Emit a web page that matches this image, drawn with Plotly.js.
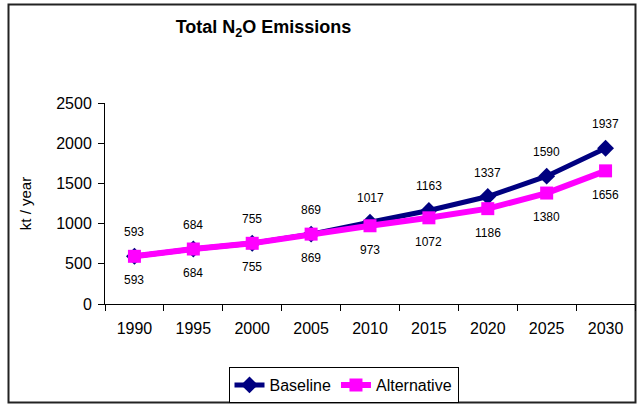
<!DOCTYPE html>
<html>
<head>
<meta charset="utf-8">
<script src="https://cdn.plot.ly/plotly-3.0.1.min.js"></script>
<style>
  html, body { margin: 0; padding: 0; background: #ffffff; }
  #chart { width: 637px; height: 405px; }
</style>
</head>
<body>
<div id="chart"></div>
<script>
const years = ["1990", "1995", "2000", "2005", "2010", "2015", "2020", "2025", "2030"];
const baseline = [593, 684, 755, 869, 1017, 1163, 1337, 1590, 1937];
const alternative = [593, 684, 755, 869, 973, 1072, 1186, 1380, 1656];
const yTicks = [0, 500, 1000, 1500, 2000, 2500];

const FONT = 'Liberation Sans, Arial, sans-serif';

const traces = [
  {
    x: years, y: baseline, name: 'Baseline', type: 'scatter', mode: 'lines+markers',
    line: { color: '#000080', width: 5 },
    marker: { symbol: 'diamond', size: 13, color: '#000080' }
  },
  {
    x: years, y: alternative, name: 'Alternative', type: 'scatter', mode: 'lines+markers',
    line: { color: '#FF00FF', width: 6 },
    marker: { symbol: 'square', size: 13, color: '#FF00FF' }
  }
];

const annotations = [];
years.forEach((yr, i) => {
  annotations.push({ x: i, y: baseline[i], xref: 'x', yref: 'y', text: String(baseline[i]),
    showarrow: false, yshift: 24, font: { family: FONT, size: 12, color: '#000000' } });
  annotations.push({ x: i, y: alternative[i], xref: 'x', yref: 'y', text: String(alternative[i]),
    showarrow: false, yshift: -24, font: { family: FONT, size: 12, color: '#000000' } });
});

const L = 105, R = 635, T = 103, B = 304, W = 637, H = 405;
const pw = R - L, ph = B - T;
const px = v => (v - L) / pw;
const py = v => (B - v) / ph;

const layout = {
  width: W, height: H,
  margin: { l: L, r: W - R, t: T, b: H - B, pad: 0 },
  paper_bgcolor: '#ffffff', plot_bgcolor: '#ffffff',
  showlegend: true,
  title: {
    text: 'Total N<sub>2</sub>O Emissions',
    font: { family: FONT, size: 18, color: '#000', weight: 'bold' },
    x: px(263.5), xref: 'paper', xanchor: 'center',
    y: 1 - 27 / H, yref: 'container', yanchor: 'middle'
  },
  xaxis: {
    type: 'category', range: [-0.5, 8.5],
    tickson: 'boundaries', ticks: 'outside', ticklen: 6, tickcolor: '#000', tickwidth: 1,
    ticklabelstandoff: 10,
    showline: true, linecolor: '#000', linewidth: 1, showgrid: false, zeroline: false,
    tickfont: { family: FONT, size: 16, color: '#000' }
  },
  yaxis: {
    range: [0, 2500], tickvals: yTicks, ticktext: yTicks.map(String),
    ticks: 'outside', ticklen: 6, tickcolor: '#000', tickwidth: 1,
    ticklabelstandoff: 3,
    showline: true, linecolor: '#000', linewidth: 1, showgrid: false, zeroline: false,
    tickfont: { family: FONT, size: 16, color: '#000' },
    title: { text: 'kt / year', font: { family: FONT, size: 15, color: '#000' }, standoff: 20 }
  },
  legend: {
    orientation: 'h', x: px(343.5), xanchor: 'center', y: py(367), yanchor: 'top',
    bordercolor: '#000', borderwidth: 1, bgcolor: '#fff',
    font: { family: FONT, size: 16, color: '#000' }
  },
  annotations: annotations,
  shapes: [
    { type: 'rect', xref: 'paper', yref: 'paper', x0: px(8.5), x1: px(635.5), y0: py(402.5), y1: py(4.5),
      line: { color: '#222', width: 2 }, layer: 'below' }
  ],
  hovermode: false
};

Plotly.newPlot('chart', traces, layout, { displayModeBar: false });
</script>
</body>
</html>
